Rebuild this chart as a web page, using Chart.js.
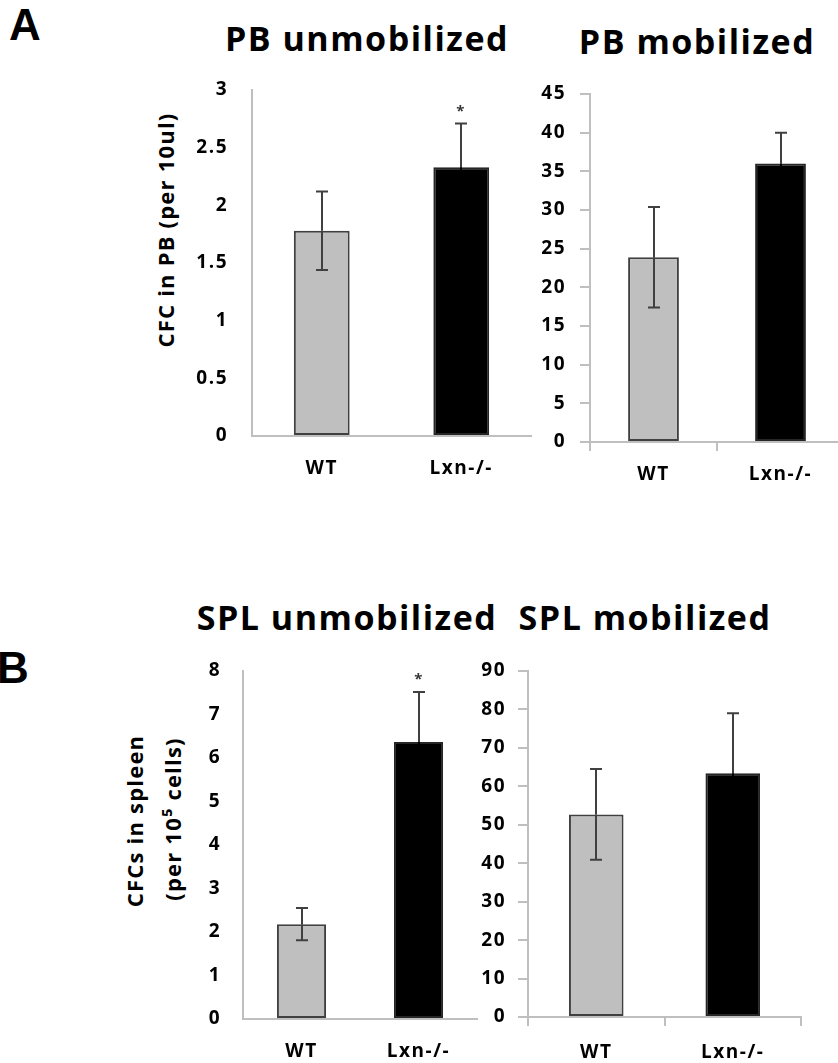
<!DOCTYPE html>
<html>
<head>
<meta charset="utf-8">
<script src="https://cdn.jsdelivr.net/npm/chart.js@4.4.1/dist/chart.umd.min.js"></script>
<style>
  body { margin:0; width:838px; height:1063px; overflow:hidden; background:#fff; position:relative; font-family:"Open Sans", sans-serif; }
  canvas { position:absolute; }
  .lbl { position:absolute; white-space:nowrap; font-weight:bold; color:#000; line-height:1; transform:translate(-50%,-50%); }
  .title { font-size:34px; letter-spacing:1.5px; }
  .ytitle { font-size:22px; letter-spacing:1.2px; transform:translate(-50%,-50%) rotate(-90deg); }
  .panel { font-family:"Liberation Sans", Arial, sans-serif; transform:none; }
</style>
</head>
<body>
<div class="lbl panel" style="left:9px;top:3px;font-size:44px;">A</div>
<div class="lbl panel" style="left:-3px;top:646px;font-size:44px;">B</div>

<div class="lbl title" style="left:367px;top:38px;">PB unmobilized</div>
<div class="lbl title" style="left:697px;top:41px;">PB mobilized</div>
<div class="lbl title" style="left:347px;top:617px;">SPL unmobilized</div>
<div class="lbl title" style="left:645px;top:617px;">SPL mobilized</div>

<div class="lbl ytitle" style="left:165px;top:230px;">CFC in PB (per 10ul)</div>
<div class="lbl ytitle" style="left:134px;top:821px;">CFCs in spleen</div>
<div class="lbl ytitle" style="left:172px;top:819px;">(per 10⁵ cells)</div>

<canvas id="pbUnmob" width="390" height="460" style="left:150px;top:40px"></canvas>
<canvas id="pbMob" width="316" height="466" style="left:530px;top:44px"></canvas>
<canvas id="splUnmob" width="340" height="442" style="left:150px;top:621px"></canvas>
<canvas id="splMob" width="340" height="442" style="left:470px;top:621px"></canvas>

<script>
// data
var categories = ['WT', 'Lxn-/-'];

var pbUnmobMeans = [1.78, 2.33];
var pbUnmobErr   = [0.34, 0.38];
var pbUnmobSig   = ['', '*'];

var pbMobMeans = [23.9, 36.0];
var pbMobErr   = [6.5, 4.0];
var pbMobSig   = ['', ''];

var splUnmobMeans = [2.18, 6.37];
var splUnmobErr   = [0.37, 1.15];
var splUnmobSig   = ['', '*'];

var splMobMeans = [52.7, 63.4];
var splMobErr   = [11.8, 15.6];
var splMobSig   = ['', ''];

var barColors = ['#bfbfbf', '#000000'];
var barBorders = ['#404040', '#262626'];

// error bars + significance stars
var errorBarPlugin = {
    id: 'errorBars',
    beforeDraw: function(chart) {
        chart.ctx.letterSpacing = '1.5px';
    },
    afterDatasetsDraw: function(chart, args, opts) {
        var ctx = chart.ctx;
        var y = chart.scales.y;
        var ds = chart.data.datasets[0];
        var meta = chart.getDatasetMeta(0);
        ctx.save();
        ctx.lineWidth = 2;
        meta.data.forEach(function(bar, i) {
            var v = ds.data[i], e = opts.errors[i];
            var yv = y.getPixelForValue(v);
            var yt = y.getPixelForValue(v + e);
            var yb = y.getPixelForValue(v - e);
            var x = Math.round(bar.x);
            var cap = 6;
            // upper whisker
            ctx.strokeStyle = '#404040';
            ctx.beginPath();
            ctx.moveTo(x, yv); ctx.lineTo(x, yt);
            ctx.moveTo(x - cap, yt); ctx.lineTo(x + cap, yt);
            ctx.stroke();
            // lower whisker (hidden inside black bars)
            ctx.strokeStyle = ds.backgroundColor[i] === '#000000' ? '#000000' : '#404040';
            ctx.beginPath();
            ctx.moveTo(x, yv); ctx.lineTo(x, yb);
            ctx.moveTo(x - cap, yb); ctx.lineTo(x + cap, yb);
            ctx.stroke();
            if (opts.marks[i]) {
                ctx.fillStyle = '#333';
                ctx.font = 'bold 15px "Open Sans"';
                ctx.textAlign = 'center';
                ctx.textBaseline = 'middle';
                ctx.fillText(opts.marks[i], x, yt - 12);
            }
        });
        ctx.restore();
    }
};

function makeChart(id, means, errs, marks, yMax, step, g) {
    var tickFont = { family: '"Open Sans"', size: 19, weight: 'bold' };
    return new Chart(document.getElementById(id), {
        type: 'bar',
        data: {
            labels: categories,
            datasets: [{
                data: means,
                backgroundColor: barColors,
                borderColor: barBorders,
                borderWidth: 2,
                borderSkipped: false,
                barPercentage: 1,
                categoryPercentage: g.barFrac
            }]
        },
        options: {
            responsive: false,
            animation: false,
            layout: { padding: { top: 50, right: g.padRight, left: 0, bottom: 0 } },
            plugins: {
                legend: { display: false },
                tooltip: { enabled: false },
                errorBars: { errors: errs, marks: marks }
            },
            scales: {
                x: {
                    grid: { drawOnChartArea: false, drawTicks: g.ticks, tickLength: 9, color: '#bfbfbf', lineWidth: 2 },
                    border: { color: '#bfbfbf', width: 2 },
                    ticks: { font: tickFont, color: '#000', padding: g.xPad },
                    afterFit: function(s) { s.height = g.xHeight; }
                },
                y: {
                    min: 0,
                    max: yMax,
                    grid: { drawOnChartArea: false, drawTicks: g.ticks, tickLength: 10, color: '#bfbfbf', lineWidth: 2 },
                    border: { color: '#bfbfbf', width: 2 },
                    ticks: {
                        stepSize: step,
                        font: tickFont,
                        color: '#000',
                        padding: g.yPad,
                        callback: function(v) { return String(v); }
                    },
                    afterFit: function(s) { s.width = g.yWidth; }
                }
            }
        },
        plugins: [errorBarPlugin]
    });
}

makeChart('pbUnmob', pbUnmobMeans, pbUnmobErr, pbUnmobSig, 3, 0.5,
    { padRight: 9, yWidth: 102, xHeight: 64, ticks: false, yPad: 24, xPad: 21, barFrac: 0.40 });
makeChart('pbMob', pbMobMeans, pbMobErr, pbMobSig, 45, 5,
    { padRight: 2, yWidth: 60, xHeight: 68, ticks: true, yPad: 14, xPad: 12, barFrac: 0.40 });
makeChart('splUnmob', splUnmobMeans, splUnmobErr, splUnmobSig, 8, 1,
    { padRight: 13, yWidth: 93, xHeight: 44, ticks: false, yPad: 22, xPad: 21, barFrac: 0.42 });
makeChart('splMob', splMobMeans, splMobErr, splMobSig, 90, 10,
    { padRight: 9, yWidth: 58, xHeight: 46, ticks: true, yPad: 12, xPad: 15, barFrac: 0.40 });
</script>
</body>
</html>
